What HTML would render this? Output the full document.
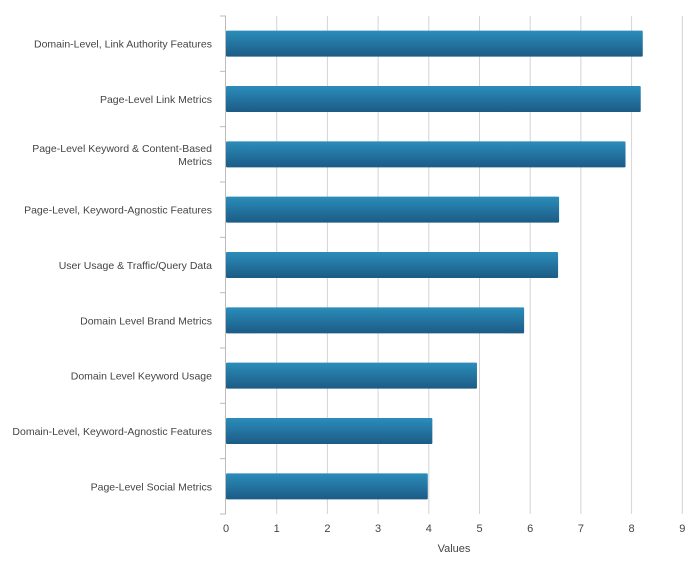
<!DOCTYPE html>
<html><head><meta charset="utf-8"><style>
body{margin:0;background:#fff;width:697px;height:560px;overflow:hidden;font-family:"Liberation Sans",sans-serif}
svg text{font-family:"Liberation Sans",sans-serif;fill:#444}
</style></head><body>
<svg id="chart" width="697" height="560">
<defs><linearGradient id="g" x1="0" y1="0" x2="0" y2="1"><stop offset="0" stop-color="#2b8dba"/><stop offset="1" stop-color="#1c5b86"/></linearGradient></defs>
</svg>
<script>
const categories=["Domain-Level, Link Authority Features","Page-Level Link Metrics","Page-Level Keyword & Content-Based Metrics","Page-Level, Keyword-Agnostic Features","User Usage & Traffic/Query Data","Domain Level Brand Metrics","Domain Level Keyword Usage","Domain-Level, Keyword-Agnostic Features","Page-Level Social Metrics"];
const values=[8.22,8.18,7.88,6.57,6.55,5.88,4.95,4.07,3.98];
const ticks=[0,1,2,3,4,5,6,7,8,9];
const labelLines=[["Domain-Level, Link Authority Features"],["Page-Level Link Metrics"],["Page-Level Keyword & Content-Based","Metrics"],["Page-Level, Keyword-Agnostic Features"],["User Usage & Traffic/Query Data"],["Domain Level Brand Metrics"],["Domain Level Keyword Usage"],["Domain-Level, Keyword-Agnostic Features"],["Page-Level Social Metrics"]];
const svgEl=document.getElementById('chart');
const NS='http://www.w3.org/2000/svg';
const x0=226,unit=50.7,yTop=16,yBottom=514;
const band=(yBottom-yTop)/categories.length;
const xs=v=>x0+v*unit;
const yc=i=>yTop+band*(i+0.5);
function mk(t,a){const e=document.createElementNS(NS,t);for(const k in a)e.setAttribute(k,a[k]);svgEl.appendChild(e);return e;}
ticks.forEach(t=>{
 if(t>0){const l=mk('line',{x1:xs(t),x2:xs(t),y1:yTop,y2:yBottom,stroke:'#d4d4d4'});
 
 }
 if(xs(t)<692){const tx=mk('text',{x:xs(t),y:532,'text-anchor':'middle','font-size':11});tx.textContent=t;
 
 }
});
const ax=mk('line',{x1:x0-0.5,x2:x0-0.5,y1:yTop,y2:yBottom,stroke:'#bbb'});


for(let i=0;i<=categories.length;i++){const tk=mk('line',{x1:x0-6,x2:x0,y1:yTop+band*i,y2:yTop+band*i,stroke:'#bbb'});
 
 }
categories.forEach((c,i)=>{
 const r=mk('rect',{x:x0,y:yc(i)-13,width:xs(values[i])-x0,height:26,fill:'url(#g)',rx:1});
 
 
 const lines=labelLines[i];
 const t=mk('text',{x:212,y:yc(i)+4-(lines.length-1)*6.5,'text-anchor':'end','font-size':10.5});
 lines.forEach((ln,j)=>{const s=document.createElementNS(NS,'tspan');s.setAttribute('x',212);if(j>0)s.setAttribute('dy',13);s.textContent=ln;t.appendChild(s);});
 
 
});
const xt=mk('text',{x:454,y:552,'text-anchor':'middle','font-size':11});xt.textContent='Values';


</script>
</body></html>
